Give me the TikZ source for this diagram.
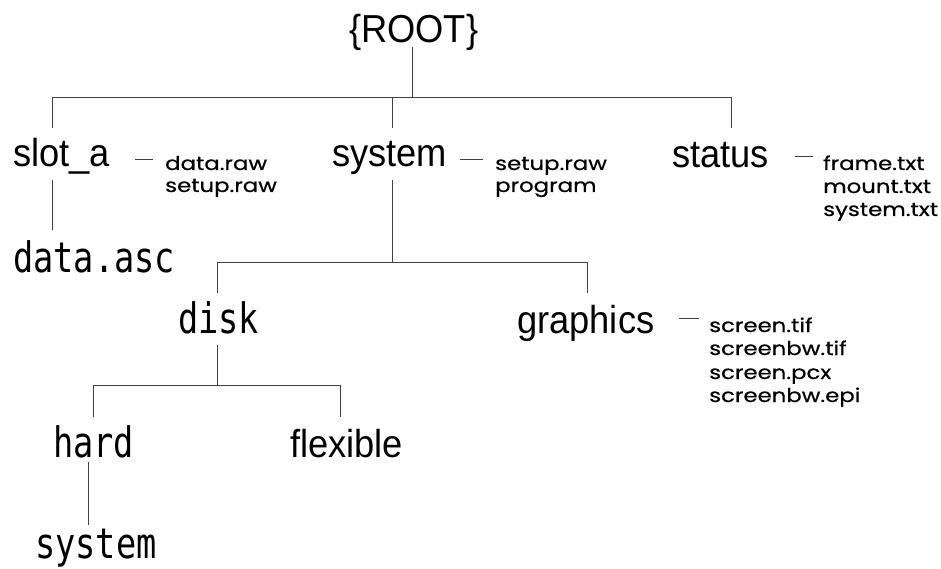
\documentclass[tikz,border=0pt]{standalone}
\usepackage{fontspec}
\newfontfamily\bigf[FakeStretch=0.93]{Liberation Sans}
\newfontfamily\monof[FakeStretch=0.8]{DejaVu Sans Mono}
\newfontfamily\smallf[FakeStretch=1.2,FakeBold=0.6]{Poppins}
\begin{document}
\begin{tikzpicture}[x=1pt,y=-1pt,
  big/.style={anchor=base west,inner sep=0pt,font=\bigf\fontsize{39}{39}\selectfont},
  mono/.style={anchor=base west,inner sep=0pt,font=\monof\fontsize{42}{42}\selectfont},
  files/.style={anchor=base west,inner sep=0pt,font=\smallf\fontsize{19}{23}\selectfont},
  tree/.style={draw=black!75,line width=1pt}]
\useasboundingbox (0,0) rectangle (941,569);
% labels
\node[big] (root) at (349,43) {\{ROOT\}};
\node[big] (slota) at (13,167) {slot\_a};
\node[big] (sys) at (332,167) {system};
\node[big] (status) at (672,168) {status};
\node[mono] (dataasc) at (13,272) {data.asc};
\node[mono] (disk) at (178,333) {disk};
\node[big] (graphics) at (517,333) {graphics};
\node[mono] (hard) at (53,457) {hard};
\node[big] (flexible) at (290,457) {flexible};
\node[mono] (hsys) at (35,558) {system};
% file lists
\node[files] (fa1) at (165,170) {data.raw};
\node[files] (fa2) at (165,192) {setup.raw};
\node[files] (fb1) at (495,170) {setup.raw};
\node[files] (fb2) at (495,192) {program};
\node[files] (fc1) at (823,170) {frame.txt};
\node[files] (fc2) at (823,193) {mount.txt};
\node[files] (fc3) at (823,216) {system.txt};
\node[files] (fd1) at (709,332) {screen.tif};
\node[files] (fd2) at (709,355) {screenbw.tif};
\node[files] (fd3) at (709,379) {screen.pcx};
\node[files] (fd4) at (709,402) {screenbw.epi};
% junction coordinates
\coordinate (r0) at (412,47);
\coordinate (r1) at (412,98);
\coordinate (a0) at (52,98);
\coordinate (a1) at (52,128);
\coordinate (b0) at (392,98);
\coordinate (b1) at (392,128);
\coordinate (c0) at (731,98);
\coordinate (c1) at (731,128);
\coordinate (d0) at (52,180);
\coordinate (d1) at (52,230);
\coordinate (e0) at (392,180);
\coordinate (e1) at (392,262);
\coordinate (f0) at (217,262);
\coordinate (f1) at (217,293);
\coordinate (g0) at (587,262);
\coordinate (g1) at (587,293);
\coordinate (h0) at (217,345);
\coordinate (h1) at (217,385);
\coordinate (i0) at (93,385);
\coordinate (i1) at (93,417);
\coordinate (k0) at (340,385);
\coordinate (k1) at (340,417);
\coordinate (m0) at (88,462);
\coordinate (m1) at (88,525);
% dashes
\coordinate (s0) at (135,160); \coordinate (s1) at (153,160);
\coordinate (t0) at (460,160); \coordinate (t1) at (483,160);
\coordinate (u0) at (795,157); \coordinate (u1) at (813,157);
\coordinate (v0) at (679,318); \coordinate (v1) at (699,318);
% tree lines
\draw[tree] (r0) -- (r1);
\draw[tree] (a1) -- (a0) -- (c0) -- (c1);
\draw[tree] (b0) -- (b1);
\draw[tree] (d0) -- (d1);
\draw[tree] (e0) -- (e1);
\draw[tree] (f1) -- (f0) -- (g0) -- (g1);
\draw[tree] (h0) -- (h1);
\draw[tree] (i1) -- (i0) -- (k0) -- (k1);
\draw[tree] (m0) -- (m1);
\draw[tree] (s0) -- (s1);
\draw[tree] (t0) -- (t1);
\draw[tree] (u0) -- (u1);
\draw[tree] (v0) -- (v1);
\end{tikzpicture}
\end{document}
